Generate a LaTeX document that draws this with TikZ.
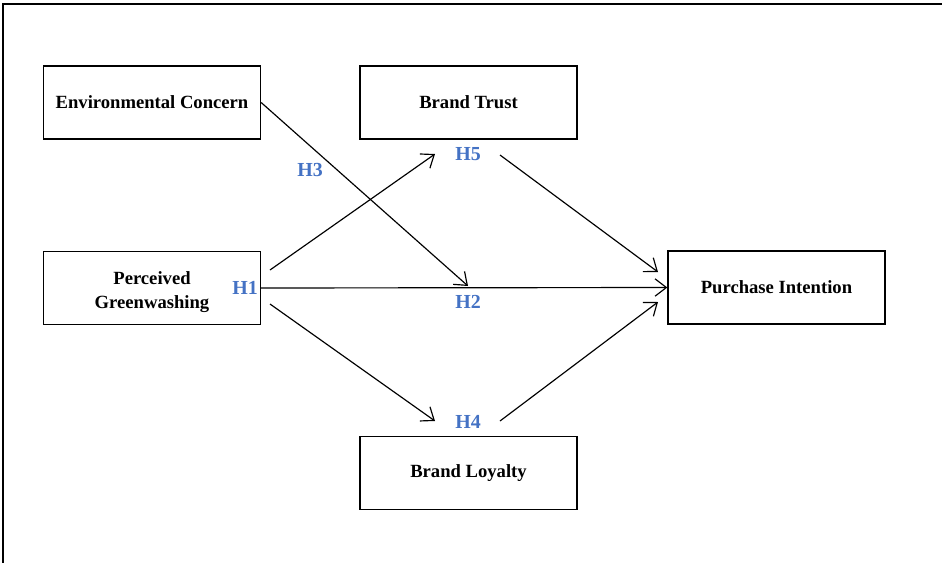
\documentclass[tikz,border=0pt]{standalone}
\usepackage{fontspec}
\setmainfont{Liberation Serif}
\usetikzlibrary{arrows.meta}
\definecolor{hblue}{RGB}{68,114,196}
\tikzset{
  construct/.style={draw, line width=1.1pt, minimum width=65.1mm, minimum height=21.9mm,
    align=center, font=\fontsize{15.9}{20}\selectfont\bfseries},
  hyp/.style={text=hblue, inner sep=0pt, font=\fontsize{17}{20}\selectfont\bfseries},
  link/.style={->, line width=1pt}
}
\begin{document}
\begin{tikzpicture}[x=0.3mm, y=-0.3mm, >={Straight Barb[length=3.4mm,width=5.2mm]}]
		\useasboundingbox (0,0) rectangle (942,563);
		\draw[line width=1.6pt] (3,563) -- (3,4) -- (942,4);
		
		\node[construct] (ec) at (152,102.5) {Environmental Concern};
		\node[construct] (bt) at (468.5,102.5) {Brand Trust};
		\node[construct] (pg) at (152,288) {\rule{0pt}{6.3mm}Perceived\\Greenwashing};
		\node[construct] (pi) at (776.5,287.5) {Purchase Intention};
		\node[construct] (bl) at (468.5,473) {Brand Loyalty};
		
		\coordinate (pgup) at (270,270);
		\coordinate (pgdown) at (270,304);
		\coordinate (bttip) at (435,154);
		\coordinate (bltip) at (435,421);
		\coordinate (h2tip) at (468,286);
		\coordinate (btout) at (500,155);
		\coordinate (blout) at (500,421);
		\coordinate (pitop) at (658,272);
		\coordinate (pibot) at (658,302);
		
		\draw[link] (ec.east) -- (h2tip);
		\draw[link] (pgup) -- (bttip);
		\draw[link] (pg.east) -- (pi.west);
		\draw[link] (pgdown) -- (bltip);
		\draw[link] (btout) -- (pitop);
		\draw[link] (blout) -- (pibot);
		
		\node[hyp] (h1) at (245,288) {H1};
		\node[hyp] (h2) at (468,302) {H2};
		\node[hyp] (h3) at (310,170) {H3};
		\node[hyp] (h4) at (468,422) {H4};
		\node[hyp] (h5) at (468,154) {H5};
	\end{tikzpicture}
\end{document}
